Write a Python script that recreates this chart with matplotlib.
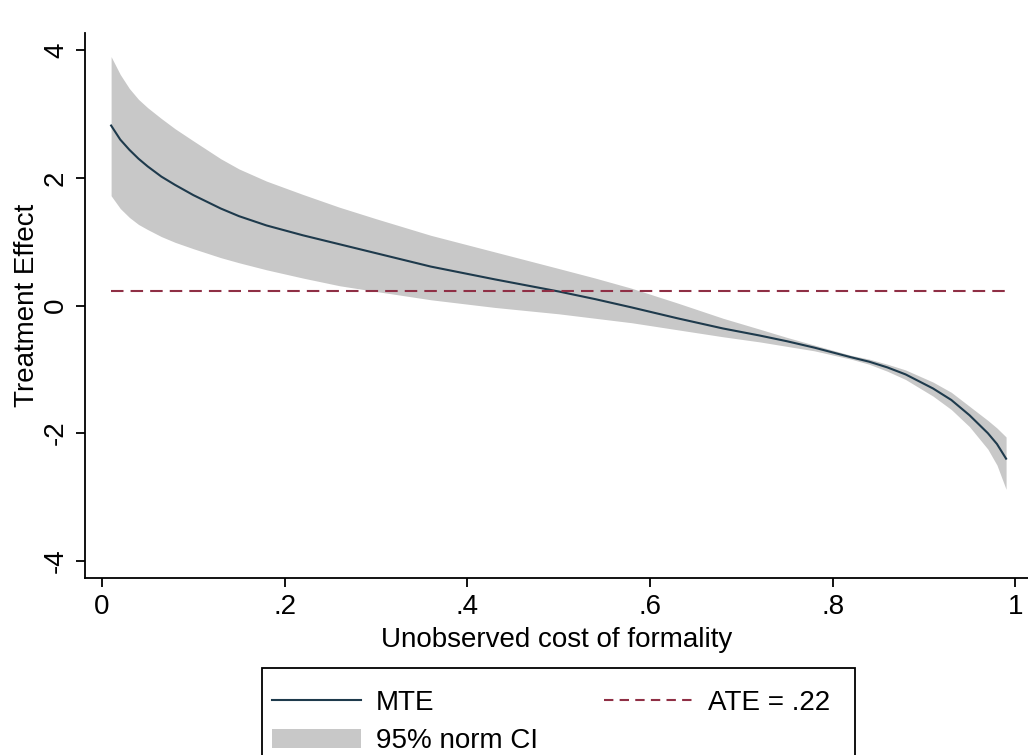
import matplotlib
matplotlib.use("Agg")
from matplotlib import pyplot as plt
from matplotlib.patches import Patch, Rectangle
from matplotlib.lines import Line2D

plt.rcParams['font.family'] = ['Liberation Sans', 'DejaVu Sans']

# values
p = [0.01, 0.02, 0.03, 0.04, 0.05, 0.065, 0.08, 0.10, 0.13, 0.15,
     0.18, 0.22, 0.26, 0.30, 0.36, 0.43, 0.50, 0.54, 0.58, 0.63,
     0.68, 0.72, 0.75, 0.78, 0.82, 0.84, 0.86, 0.88, 0.91, 0.93,
     0.95, 0.97, 0.98, 0.99]
mte = [2.82, 2.60, 2.44, 2.30, 2.18, 2.02, 1.89, 1.73, 1.52, 1.40,
       1.255, 1.10, 0.96, 0.82, 0.61, 0.41, 0.22, 0.10, -0.03, -0.20,
       -0.36, -0.47, -0.56, -0.66, -0.81, -0.88, -0.97, -1.08, -1.30, -1.48,
       -1.72, -2.00, -2.17, -2.40]
ci_hi = [3.90, 3.62, 3.40, 3.23, 3.10, 2.93, 2.77, 2.58, 2.30, 2.14,
         1.95, 1.74, 1.54, 1.36, 1.10, 0.84, 0.58, 0.43, 0.27, 0.04,
         -0.20, -0.37, -0.50, -0.62, -0.78, -0.84, -0.92, -1.01, -1.20, -1.36,
         -1.58, -1.80, -1.92, -2.06]
ci_lo = [1.72, 1.52, 1.38, 1.27, 1.19, 1.08, 0.99, 0.89, 0.75, 0.67,
         0.56, 0.43, 0.31, 0.22, 0.09, -0.03, -0.13, -0.20, -0.27, -0.38,
         -0.49, -0.57, -0.64, -0.71, -0.84, -0.92, -1.03, -1.16, -1.42, -1.63,
         -1.90, -2.25, -2.50, -2.88]
ate = 0.22

xticks = [0, 0.2, 0.4, 0.6, 0.8, 1]
xticklabels = ['0', '.2', '.4', '.6', '.8', '1']
yticks = [-4, -2, 0, 2, 4]

line_col = '#1e3a4c'
band_col = '#c8c8c8'
ate_col = '#8f2f45'
fs = 20
W, H = 1028, 755

fig = plt.figure(figsize=(W / 100, H / 100), dpi=100)
ax = fig.add_axes([85 / W, 1 - 578 / H, 1 - 85 / W, (578 - 33) / H])

ax.fill_between(p, ci_lo, ci_hi, color=band_col, lw=0)
ax.plot(p, mte, color=line_col, lw=1.5)
ax.plot([p[0], p[-1]], [ate, ate], color=ate_col, lw=1.5, dashes=(6, 3.4))

ax.set_xlim(-0.0186, 1.014)
ax.set_ylim(-4.27, 4.27)
ax.set_xticks(xticks)
ax.set_xticklabels(xticklabels)
ax.set_yticks(yticks)
ax.set_yticklabels([str(v) for v in yticks], rotation=90, va='center')

for s in ['top', 'right']:
    ax.spines[s].set_visible(False)
for s in ['left', 'bottom']:
    ax.spines[s].set_linewidth(1.3)
ax.tick_params(direction='out', length=6.5, width=1.3, labelsize=fs, pad=5)

ax.set_xlabel('Unobserved cost of formality', fontsize=fs, labelpad=5)
ax.set_ylabel('Treatment Effect', fontsize=fs, labelpad=2)

# legend box runs off the bottom of the figure, as in the original
fig.patches.append(Rectangle((262 / W, -0.05), (855 - 262) / W, 0.05 + 1 - 668 / H,
                             transform=fig.transFigure, facecolor='white',
                             edgecolor='black', lw=1.3, zorder=1))

handles = [Line2D([], [], color=line_col, lw=1.5),
           Patch(facecolor=band_col, edgecolor='none'),
           Line2D([], [], color=ate_col, lw=1.5, dashes=(4.5, 3))]
labels = ['MTE', '95% norm CI', 'ATE = .22']
leg = fig.legend(handles, labels, ncol=2, loc='upper left',
                 bbox_to_anchor=(272 / W, 1 - 690 / H), fontsize=fs,
                 frameon=False,
                 handlelength=3.2, handleheight=0.7, handletextpad=0.55,
                 columnspacing=2.36, labelspacing=0.44, borderpad=0,
                 borderaxespad=0)
leg.set_zorder(2)

fig.savefig('out.png', dpi=100)
